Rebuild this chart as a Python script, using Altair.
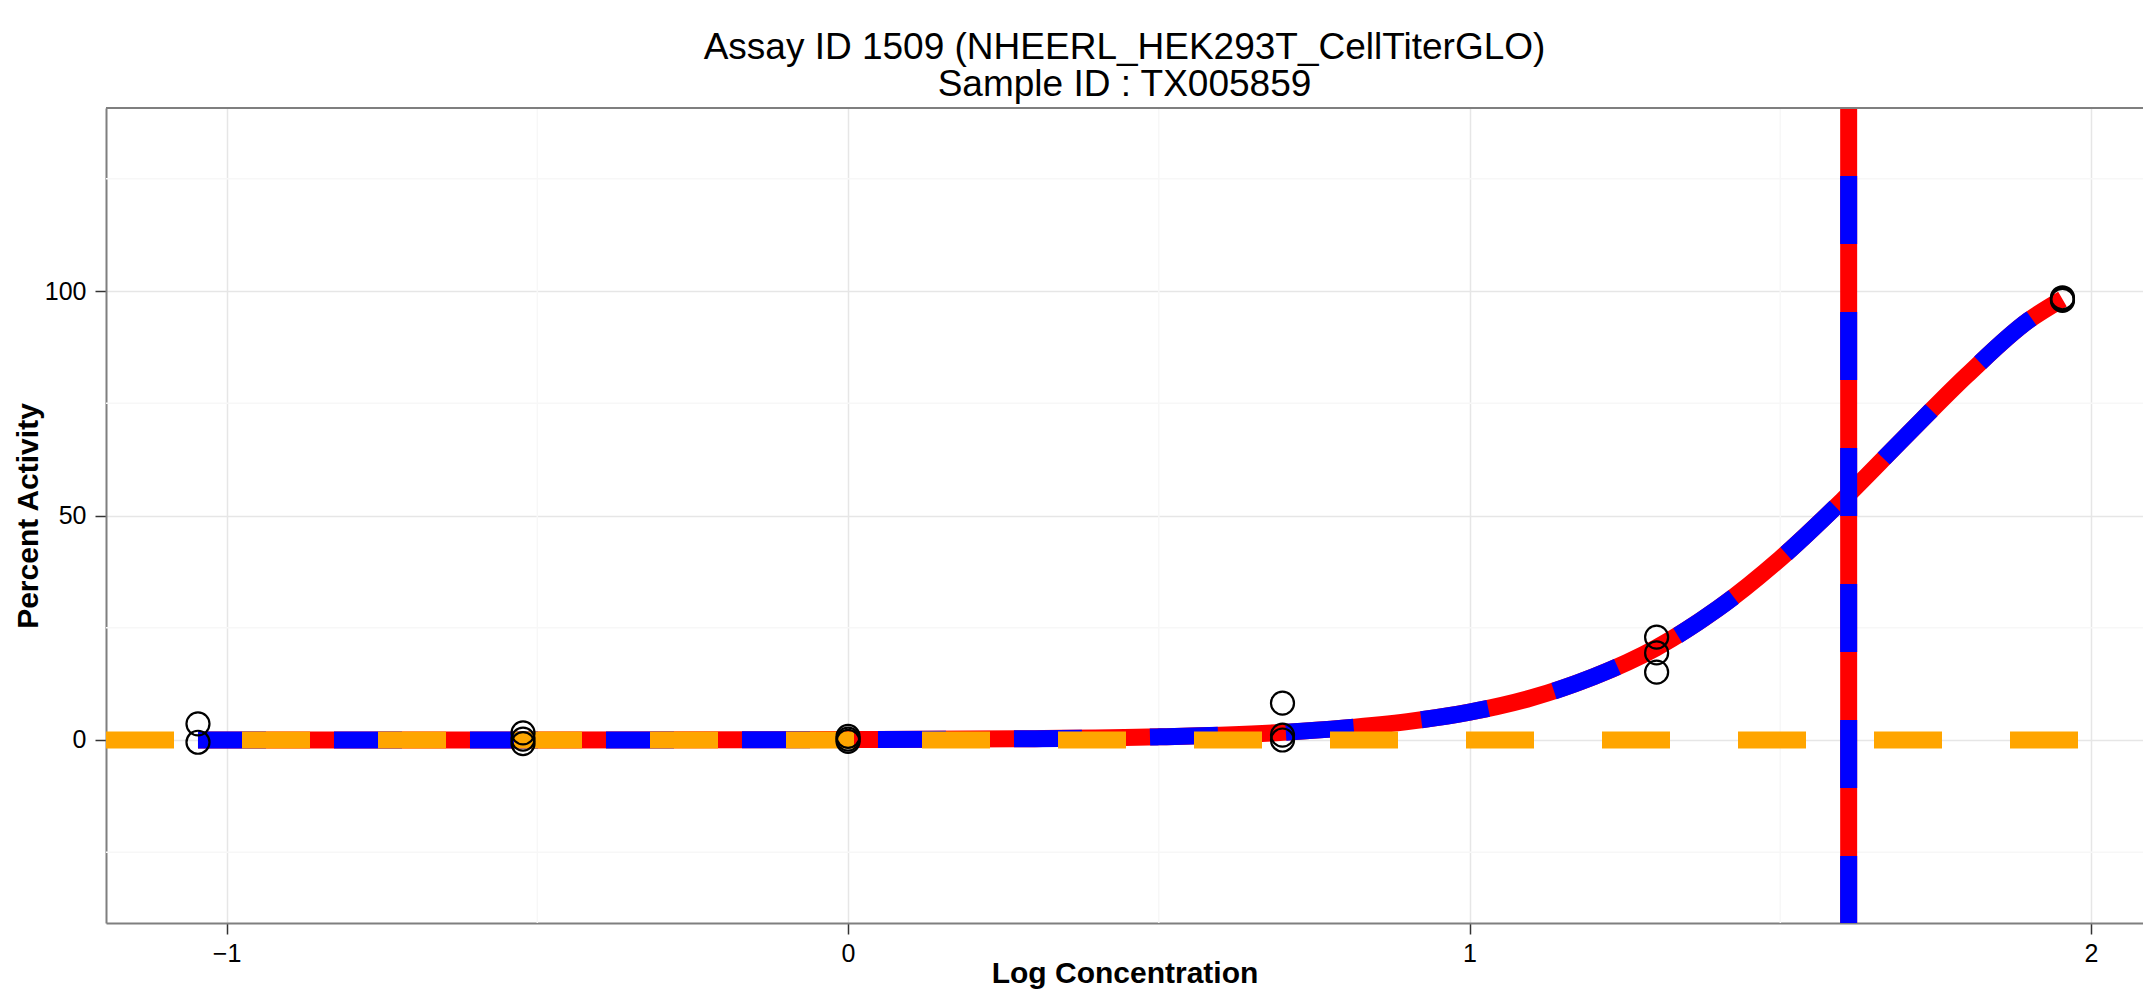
import altair as alt
import pandas as pd

# ---- data ----
dose_log = [-1.046, -1.046, -0.523, -0.523, -0.523, 0.0, 0.0, 0.0,
            0.699, 0.699, 0.699, 1.301, 1.301, 1.301, 1.954, 1.954, 1.954]
resp = [3.6, -0.5, 1.6, 0.2, -0.8, 0.8, 0.2, -0.3,
        8.2, 1.1, 0.0, 22.9, 19.4, 15.1, 97.9, 98.2, 98.5]

curve_x = [-1.046, -0.5, 0.0, 0.3, 0.5, 0.7, 0.8, 0.9, 1.0, 1.1, 1.2, 1.3,
           1.4, 1.5, 1.6, 1.7, 1.8, 1.9, 1.954]
curve_y = [0.0, 0.0, 0.1, 0.3, 0.7, 1.7, 2.7, 4.1, 6.2, 9.4, 14.1, 20.5,
           29.3, 40.4, 53.4, 67.4, 81.2, 93.5, 98.2]

ac50_log = [1.61]
cutoff = [0]

x_ticks = [-1, 0, 1, 2]
y_ticks = [0, 50, 100]
x_minor = [-0.5, 0.5, 1.5]
y_minor = [-25, 25, 75, 125]

title_lines = ["Assay ID 1509 (NHEERL_HEK293T_CellTiterGLO)", "Sample ID : TX005859"]
x_title = "Log Concentration"
y_title = "Percent Activity"

# ---- layout ----
W, H = 2037, 815
FONT = "Liberation Sans"
xs = alt.Scale(domain=[-1.194, 2.0836], nice=False, zero=False)
ys = alt.Scale(domain=[-40.76, 140.76], nice=False, zero=False)

x_axis = alt.Axis(values=x_ticks, grid=True, gridColor="#e6e6e6", gridWidth=1.5,
                  domainColor="#7f7f7f", domainWidth=2, tickColor="#333333",
                  tickSize=11, tickWidth=1.5, labelFont=FONT, labelFontSize=25,
                  labelColor="black", labelPadding=7, title=x_title,
                  titleFont=FONT, titleFontSize=30, titleFontWeight="bold",
                  titleColor="black", titleBaseline="alphabetic", titleY=59)
y_axis = alt.Axis(values=y_ticks, grid=True, gridColor="#e6e6e6", gridWidth=1.5,
                  domainColor="#7f7f7f", domainWidth=2, tickColor="#333333",
                  tickSize=11, tickWidth=1.5, labelFont=FONT, labelFontSize=25,
                  labelColor="black", labelPadding=9, title=y_title,
                  titleFont=FONT, titleFontSize=30, titleFontWeight="bold",
                  titleColor="black", titleBaseline="alphabetic", titleX=-69)


def X(f="x"):
    return alt.X(f"{f}:Q", scale=xs, axis=x_axis)


def Y(f="y"):
    return alt.Y(f"{f}:Q", scale=ys, axis=y_axis)


pts = pd.DataFrame({"x": dose_log, "y": resp})
crv = pd.DataFrame({"x": curve_x, "y": curve_y})
vl = pd.DataFrame({"x": ac50_log})
hl = pd.DataFrame({"y": cutoff})
xm = pd.DataFrame({"x": x_minor})
ym = pd.DataFrame({"y": y_minor})

minor_x = alt.Chart(xm).mark_rule(color="#f7f7f7", strokeWidth=1.5).encode(x=X())
minor_y = alt.Chart(ym).mark_rule(color="#f7f7f7", strokeWidth=1.5).encode(y=Y())

curve_red = alt.Chart(crv).mark_line(color="#ff0000", strokeWidth=17, strokeCap="butt",
                                     interpolate="monotone").encode(x=X(), y=Y())
curve_blue = alt.Chart(crv).mark_line(color="#0000ff", strokeWidth=17, strokeCap="butt",
                                      strokeDash=[68, 68], interpolate="monotone").encode(x=X(), y=Y())

v_red = alt.Chart(vl).mark_rule(color="#ff0000", strokeWidth=17, strokeCap="butt").encode(x=X())
v_blue = alt.Chart(vl).mark_rule(color="#0000ff", strokeWidth=17, strokeCap="butt",
                                 strokeDash=[68, 68], strokeDashOffset=68).encode(x=X())

h_orange = alt.Chart(hl).mark_rule(color="#ffa500", strokeWidth=17, strokeCap="butt",
                                   strokeDash=[68, 68]).encode(
    y=Y(), x=alt.value(0), x2=alt.value(W))

points = alt.Chart(pts).mark_point(shape="circle", filled=False, size=530, strokeWidth=2.2,
                                   color="black", opacity=1).encode(x=X(), y=Y())

top_border = alt.Chart(hl).mark_rule(color="#7f7f7f", strokeWidth=2).encode(
    x=alt.value(0), x2=alt.value(W), y=alt.value(0))

chart = alt.layer(
    minor_x, minor_y, curve_red, curve_blue, v_red, v_blue, h_orange, points, top_border
).properties(
    width=W, height=H,
    autosize=alt.AutoSizeParams(type="none"),
    padding={"left": 98, "top": 100, "right": 0, "bottom": 66},
    background="white",
    title=alt.TitleParams(text=title_lines, font=FONT, fontSize=37, fontWeight="normal",
                          color="black", anchor="middle", frame="group",
                          baseline="bottom", lineHeight=37, offset=0, dy=41),
).configure_view(stroke=None)

chart.save("out.html", embed_options={"renderer": "svg", "actions": False})
